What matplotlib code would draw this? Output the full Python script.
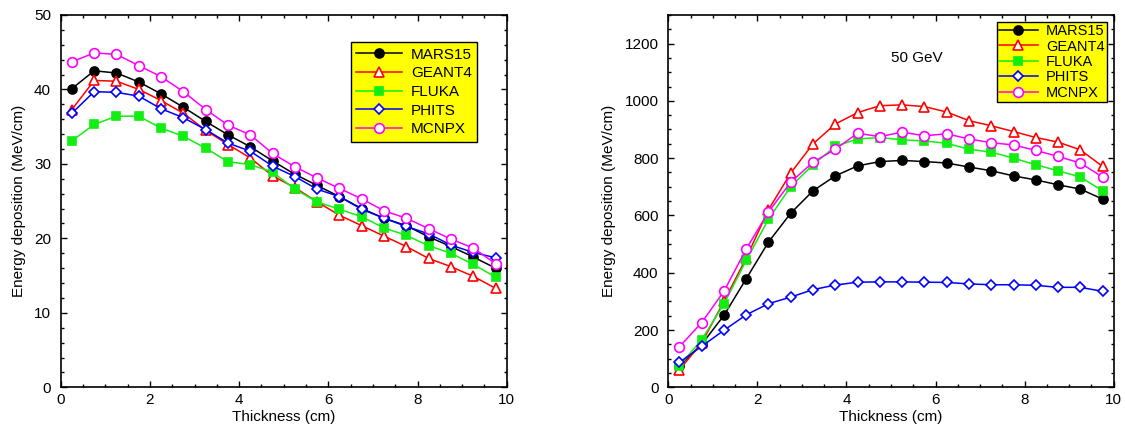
import matplotlib
matplotlib.use("Agg")
import matplotlib.pyplot as plt
from matplotlib.ticker import MultipleLocator

plt.rcParams['font.family'] = ['Liberation Sans', 'DejaVu Sans']

# thickness bins (cm), bin centres
thickness = [0.25, 0.75, 1.25, 1.75, 2.25, 2.75, 3.25, 3.75, 4.25, 4.75,
             5.25, 5.75, 6.25, 6.75, 7.25, 7.75, 8.25, 8.75, 9.25, 9.75]

# left panel: energy deposition (MeV/cm)
mars_l = [40.1, 42.5, 42.2, 41.0, 39.4, 37.6, 35.7, 33.9, 32.3, 30.4,
          28.6, 27.1, 25.6, 24.0, 22.7, 21.7, 20.2, 18.9, 17.5, 16.0]
geant_l = [37.3, 41.2, 41.1, 40.0, 38.5, 36.8, 34.5, 32.6, 30.8, 28.4,
           26.8, 24.9, 23.1, 21.7, 20.3, 18.9, 17.3, 16.2, 14.9, 13.3]
fluka_l = [33.1, 35.3, 36.4, 36.4, 34.8, 33.7, 32.1, 30.3, 29.9, 28.9,
           26.6, 24.9, 23.9, 22.9, 21.4, 20.4, 19.0, 18.0, 16.5, 14.8]
phits_l = [36.8, 39.7, 39.6, 39.1, 37.4, 36.2, 34.6, 32.8, 31.7, 29.7,
           28.3, 26.6, 25.6, 23.9, 22.7, 21.6, 20.6, 19.1, 18.1, 17.4]
mcnpx_l = [43.7, 44.9, 44.7, 43.2, 41.7, 39.7, 37.3, 35.2, 33.9, 31.4,
           29.6, 28.1, 26.7, 25.3, 23.7, 22.7, 21.3, 19.9, 18.7, 16.6]

# right panel: 50 GeV
mars_r = [75, 150, 251, 379, 507, 608, 686, 738, 773, 788,
          792, 788, 783, 769, 756, 738, 724, 707, 692, 657]
geant_r = [61, 155, 300, 451, 620, 748, 850, 919, 959, 983,
           986, 980, 961, 931, 913, 893, 872, 856, 829, 771]
fluka_r = [75, 166, 291, 443, 587, 701, 777, 841, 867, 872,
           864, 860, 852, 831, 821, 800, 777, 756, 734, 686]
phits_r = [87, 143, 199, 253, 292, 315, 341, 357, 367, 368,
           368, 367, 366, 361, 358, 358, 356, 349, 349, 335]
mcnpx_r = [141, 226, 335, 483, 612, 716, 786, 831, 887, 875,
           891, 878, 885, 867, 854, 846, 827, 806, 783, 734]

codes = ['MARS15', 'GEANT4', 'FLUKA', 'PHITS', 'MCNPX']
styles = [
    dict(color='black', marker='o', mfc='black', ms=6.5),
    dict(color='#ff0000', marker='^', mfc='white', ms=7),
    dict(color='#11ee11', marker='s', mfc='#11ee11', ms=5.5),
    dict(color='#0000ff', marker='D', mfc='white', ms=5),
    dict(color='#ff00ff', marker='o', mfc='white', ms=7),
]

fig = plt.figure(figsize=(11.25, 4.3), dpi=100)
ax1 = fig.add_axes([0.054, 0.0993, 0.3964, 0.866])
ax2 = fig.add_axes([0.594, 0.0993, 0.396, 0.866])


def draw(ax, series, ylim, major, minor):
    for name, vals, st in zip(codes, series, styles):
        ax.plot(thickness, vals, color=st['color'], marker=st['marker'],
                mfc=st['mfc'], mec=st['color'], ms=st['ms'], mew=1.2,
                lw=1.1, label=name)
    ax.set_xlim(0, 10)
    ax.set_ylim(*ylim)
    ax.xaxis.set_major_locator(MultipleLocator(2))
    ax.xaxis.set_minor_locator(MultipleLocator(0.5))
    ax.yaxis.set_major_locator(MultipleLocator(major))
    ax.yaxis.set_minor_locator(MultipleLocator(minor))
    ax.tick_params(which='both', direction='in', top=True, right=True,
                   labelsize=11, width=1)
    ax.tick_params(which='major', length=4.5)
    ax.tick_params(which='minor', length=2.5)
    ax.tick_params(axis='y', pad=7)
    ax.tick_params(axis='x', pad=4)
    for sp in ax.spines.values():
        sp.set_linewidth(1.2)
    ax.set_xlabel('Thickness (cm)', fontsize=11, labelpad=2)
    ax.set_ylabel('Energy deposition (MeV/cm)', fontsize=11, labelpad=6)


draw(ax1, [mars_l, geant_l, fluka_l, phits_l, mcnpx_l], (0, 50), 10, 2)
draw(ax2, [mars_r, geant_r, fluka_r, phits_r, mcnpx_r], (0, 1300), 200, 50)

ax2.text(5.0, 1148, '50 GeV', fontsize=11, va='center', ha='left')

leg1 = ax1.legend(loc='upper left', bbox_to_anchor=(0.65, 0.926), fontsize=11,
                  handlelength=3.0, handletextpad=0.6, labelspacing=0.3,
                  borderpad=0.35, borderaxespad=0, fancybox=False,
                  framealpha=1, facecolor='#ffff00', edgecolor='black')
leg1.get_frame().set_linewidth(1)

leg2 = ax2.legend(loc='upper left', bbox_to_anchor=(0.738, 0.98), fontsize=10.5,
                  handlelength=2.7, handletextpad=0.55, labelspacing=0.1,
                  borderpad=0.12, borderaxespad=0, fancybox=False,
                  framealpha=1, facecolor='#ffff00', edgecolor='black')
leg2.get_frame().set_linewidth(1)

fig.savefig('out.png', dpi=100)
